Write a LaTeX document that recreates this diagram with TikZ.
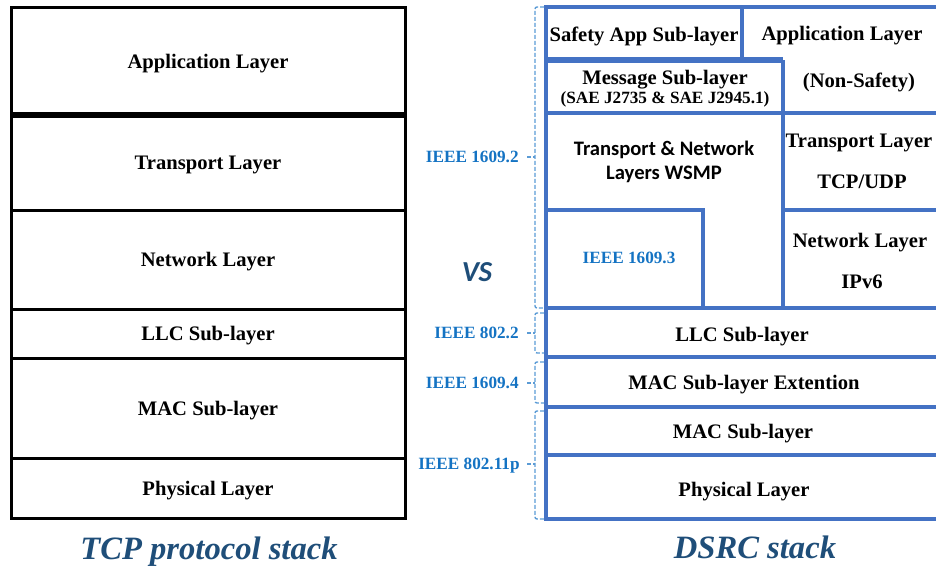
\documentclass[tikz,border=0pt]{standalone}
\usepackage{fontspec}
\setmainfont{Liberation Serif}[BoldFont={Liberation Serif Bold}, ItalicFont={Liberation Serif Italic}, BoldItalicFont={Liberation Serif Bold Italic}]
\newfontfamily\calibrifont{Carlito}
\usepackage{tikz}
\usetikzlibrary{shapes,arrows,positioning}
\definecolor{dsrcblue}{RGB}{68,114,196}
\definecolor{stdblue}{RGB}{20,115,195}
\definecolor{brkblue}{RGB}{91,155,213}
\definecolor{capblue}{RGB}{31,78,121}
\newcommand{\mainsize}{\fontsize{10.3}{12}\selectfont}
\newcommand{\smallsize}{\fontsize{8.6}{10}\selectfont}
\tikzstyle{tnode} = [rectangle, draw, line width=1.5pt, minimum width=197pt, inner sep=0pt, outer sep=0pt, text depth=0pt, font=\mainsize\bfseries]
\tikzstyle{dtext} = [inner sep=0pt, text depth=0pt, font=\mainsize\bfseries]
\tikzstyle{wtext} = [inner sep=0pt, text depth=0pt, font=\mainsize\calibrifont\bfseries]
\tikzstyle{ssub} = [inner sep=0pt, text depth=0pt, font=\smallsize\bfseries]
\tikzstyle{stext} = [inner sep=0pt, text depth=0pt, text=stdblue, font=\smallsize\bfseries]
\tikzstyle{bline} = [draw, dsrcblue, line width=1.6pt]
\tikzstyle{brk} = [draw, brkblue, line width=0.7pt, dash pattern=on 2pt off 1pt, rounded corners=1pt]
\tikzstyle{captext} = [anchor=base, text=capblue, font=\fontsize{16.3}{18}\selectfont\bfseries\itshape]

\begin{document}
\begin{tikzpicture}[x=0.5pt, y=-0.5pt]
	\useasboundingbox (0,0) rectangle (936,568);

	% TCP stack
	\node [tnode, minimum height=54pt] (app) at (208,61) {Application Layer};
	\node [tnode, minimum height=47.5pt] (trans) at (208,162.5) {Transport Layer};
	\node [tnode, minimum height=49.5pt] (net) at (208,259.5) {Network Layer};
	\node [tnode, minimum height=24.5pt] (llc) at (208,333.5) {LLC Sub-layer};
	\node [tnode, minimum height=50pt] (mac) at (208,408) {MAC Sub-layer};
	\node [tnode, minimum height=30pt] (phy) at (208,488) {Physical Layer};
	\path [draw, line width=3pt] (app.south west) -- (app.south east);

	% DSRC stack
	\path [bline] (946,7) -- (546,7) -- (546,519) -- (946,519);
	\path [bline] (742,7) -- (742,60);
	\path [bline, line width=3pt] (546,60) -- (783,60);
	\path [bline] (783,60) -- (783,308);
	\path [bline] (546,210) -- (703,210) -- (703,308);
	\path [bline] (783,210) -- (946,210);
	\path [bline] (546,113) -- (946,113);
	\path [bline] (546,308) -- (946,308);
	\path [bline] (546,357) -- (946,357);
	\path [bline] (546,407) -- (946,407);
	\path [bline] (546,455) -- (946,455);

	\node [dtext] (safe) at (644,34) {Safety App Sub-layer};
	\node [dtext] (dapp) at (842,33) {Application Layer};
	\node [dtext] (nonsafe) at (859,80) {(Non-Safety)};
	\node [dtext] (msg) at (665,77) {Message Sub-layer};
	\node [ssub] (sae) at (665,98) {(SAE J2735 \& SAE J2945.1)};
	\node [wtext] (wsmp1) at (664,148) {Transport \& Network};
	\node [wtext] (wsmp2) at (664,173) {Layers WSMP};
	\node [dtext] (dtl) at (859,141) {Transport Layer};
	\node [dtext] (tcpudp) at (862,182) {TCP/UDP};
	\node [dtext] (dnl) at (860,240) {Network Layer};
	\node [dtext] (ipv6) at (862,282) {IPv6};
	\node [stext] (i16093) at (629,258) {IEEE 1609.3};
	\node [dtext] (dllc) at (742,334) {LLC Sub-layer};
	\node [dtext] (dmacx) at (744,382) {MAC Sub-layer Extention};
	\node [dtext] (dmac) at (743,431) {MAC Sub-layer};
	\node [dtext] (dphy) at (744,489) {Physical Layer};

	% standards
	\node [stext, anchor=east] (s1) at (519,157) {IEEE 1609.2};
	\node [stext, anchor=east] (s2) at (519,333) {IEEE 802.2};
	\node [stext, anchor=east] (s3) at (519,383) {IEEE 1609.4};
	\node [stext, anchor=east] (s4) at (520,464) {IEEE 802.11p};

	\path [brk] (544,7) -- (535,7) -- (535,308) -- (544,308);
	\path [brk] ([xshift=4pt]s1.east) -- (535,157);
	\path [brk] (544,313) -- (535,313) -- (535,353) -- (544,353);
	\path [brk] ([xshift=4pt]s2.east) -- (535,333);
	\path [brk] (544,362) -- (535,362) -- (535,403) -- (544,403);
	\path [brk] ([xshift=4pt]s3.east) -- (535,383);
	\path [brk] (544,411) -- (535,411) -- (535,519) -- (544,519);
	\path [brk] ([xshift=3.5pt]s4.east) -- (535,464);

	\node [anchor=base, text=capblue, font=\fontsize{14.5}{16}\selectfont\calibrifont\bfseries\itshape] (vs) at (477,281) {VS};
	\node [captext] (tcpcap) at (209,559) {TCP protocol stack};
	\node [captext] (dsrccap) at (755,558) {DSRC stack};
\end{tikzpicture}
\end{document}
